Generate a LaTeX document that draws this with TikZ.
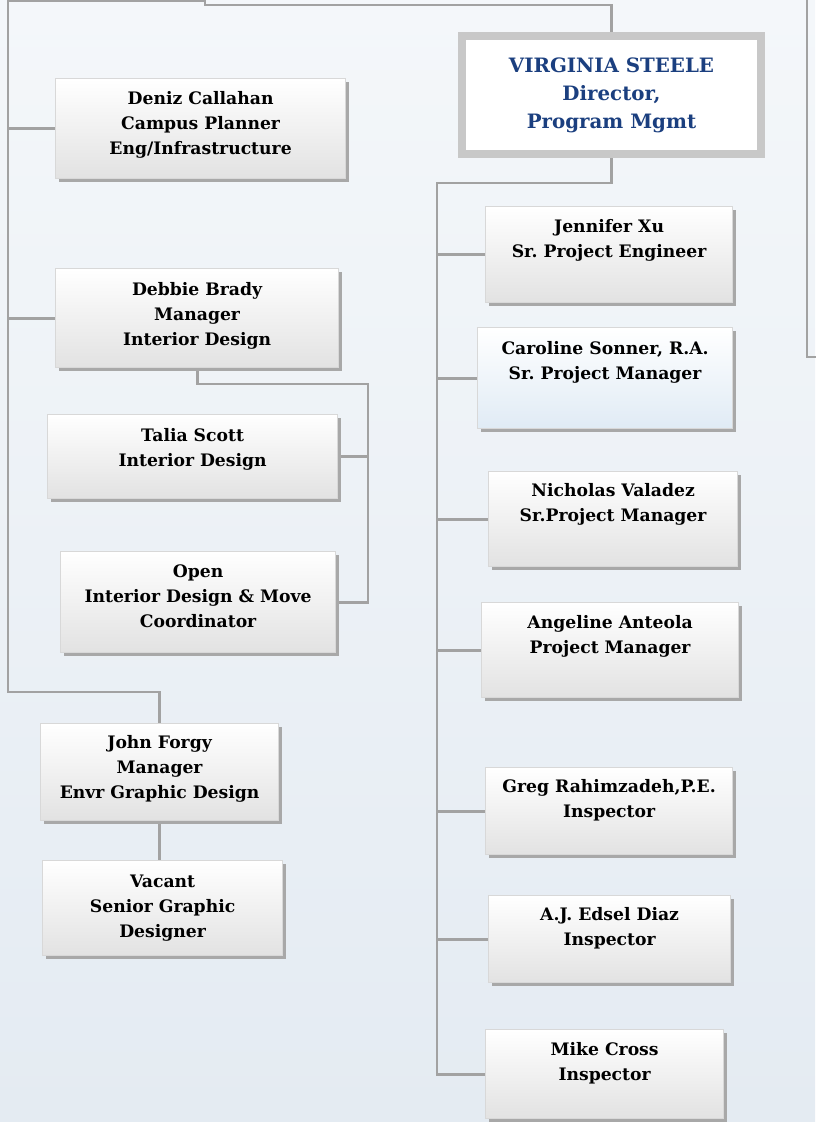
\documentclass[tikz,border=0pt]{standalone}
\usepackage{fontspec}
\setmainfont{DejaVu Serif}
\usetikzlibrary{shadows}
\frenchspacing
\definecolor{bgtop}{HTML}{F4F7FA}
\definecolor{bgbot}{HTML}{E4EBF2}
\definecolor{lncol}{HTML}{A2A2A2}
\definecolor{bxedge}{HTML}{D8D8D8}
\definecolor{bxbot}{HTML}{E2E2E2}
\definecolor{shcol}{HTML}{A8A8A8}
\definecolor{vsblue}{HTML}{1B3F7F}
\definecolor{vsgray}{HTML}{C8C8C8}
\definecolor{cabot}{HTML}{E0EBF5}
\newcommand{\bt}[4]{\parbox[c][#2pt][t]{#1pt}{\centering\frenchspacing\fontsize{17.2}{25}\selectfont\bfseries\rule{0pt}{#3pt}#4}}
\pgfdeclarelayer{back}
\pgfdeclarelayer{lines}
\pgfsetlayers{back,lines,main}
\tikzset{
  bx/.style={anchor=north west, inner sep=0pt, draw=bxedge, line width=1.2pt,
    top color=white, bottom color=bxbot,
    drop shadow={shadow xshift=3pt, shadow yshift=-3pt, fill=shcol, opacity=1}},
  bxblue/.style={bx, bottom color=cabot},
  ln/.style={draw=lncol, line width=2.8pt},
}
\begin{document}
\begin{tikzpicture}[x=1pt,y=-1pt]
\useasboundingbox (0,0) rectangle (815,1122);
\begin{pgfonlayer}{back}
\shade[top color=bgtop, bottom color=bgbot] (0,0) rectangle (815,1122);
\end{pgfonlayer}

% director
\node[draw=vsgray, line width=8pt, fill=white, minimum width=299pt, minimum height=118pt,
  inner sep=0pt, text=vsblue, font=\fontsize{19.8}{28}\selectfont\bfseries, align=center]
  (vs) at (611.5,95) {VIRGINIA STEELE\\Director,\\Program Mgmt};
\draw[vsgray, line width=1.2pt] ([xshift=7pt,yshift=-7pt]vs.north west) rectangle ([xshift=-7pt,yshift=7pt]vs.south east);

% left column
\node[bx] (dc) at (55,78)  {\bt{290}{100}{26}{Deniz Callahan\\Campus Planner\\Eng/Infrastructure}};
\node[bx] (db) at (55,268) {\bt{283}{99}{27}{Debbie Brady\\Manager\\Interior Design}};
\node[bx] (ts) at (47,414) {\bt{290}{84}{27}{Talia Scott\\Interior Design}};
\node[bx] (op) at (60,551) {\bt{275}{101}{26}{Open\\Interior Design \& Move\\Coordinator}};
\node[bx] (jf) at (40,723) {\bt{238}{97}{25}{John Forgy\\Manager\\Envr Graphic Design}};
\node[bx] (vc) at (42,860) {\bt{240}{95}{27}{Vacant\\Senior Graphic\\Designer}};

% right column
\node[bx] (jx) at (485,206)  {\bt{247}{96}{26}{Jennifer Xu\\Sr.\ Project Engineer}};
\node[bxblue] (cs) at (477,327) {\bt{255}{101}{27}{Caroline Sonner, R.A.\\Sr.\ Project Manager}};
\node[bx] (nv) at (488,471)  {\bt{249}{95}{25}{Nicholas Valadez\\Sr.Project Manager}};
\node[bx] (aa) at (481,602)  {\bt{257}{95}{26}{Angeline Anteola\\Project Manager}};
\node[bx] (gr) at (485,767)  {\bt{247}{87}{25}{Greg Rahimzadeh,P.E.\\Inspector}};
\node[bx] (ed) at (488,895)  {\bt{242}{87}{25}{A.J. Edsel Diaz\\Inspector}};
\node[bx] (mc) at (485,1029) {\bt{238}{89}{26}{Mike Cross\\Inspector}};

% connectors
\coordinate (st) at (205,5);
\coordinate (sl) at (205,1);
\coordinate (lb) at (8,692);
\coordinate (ic) at (368,384);
\coordinate (rt) at (437,183);
\coordinate (fa) at (807,-5);
\coordinate (fb) at (820,357);
\begin{pgfonlayer}{lines}
\draw[ln] (vs.north) |- (st) -- (sl) -| (lb) -| (jf.north);
\draw[ln] (dc.west) -- (dc.west -| lb);
\draw[ln] (db.west) -- (db.west -| lb);
\draw[ln] (db.south) |- (ic) |- (op.east);
\draw[ln] (ts.east) -- (ts.east -| ic);
\draw[ln] (jf.south) -- (jf.south |- vc.north);
\draw[ln] (vs.south) |- (rt) |- (mc.west);
\draw[ln] (jx.west) -- (jx.west -| rt);
\draw[ln] (cs.west) -- (cs.west -| rt);
\draw[ln] (nv.west) -- (nv.west -| rt);
\draw[ln] (aa.west) -- (aa.west -| rt);
\draw[ln] (gr.west) -- (gr.west -| rt);
\draw[ln] (ed.west) -- (ed.west -| rt);
\draw[ln] (fa) |- (fb);
\end{pgfonlayer}
\end{tikzpicture}
\end{document}
